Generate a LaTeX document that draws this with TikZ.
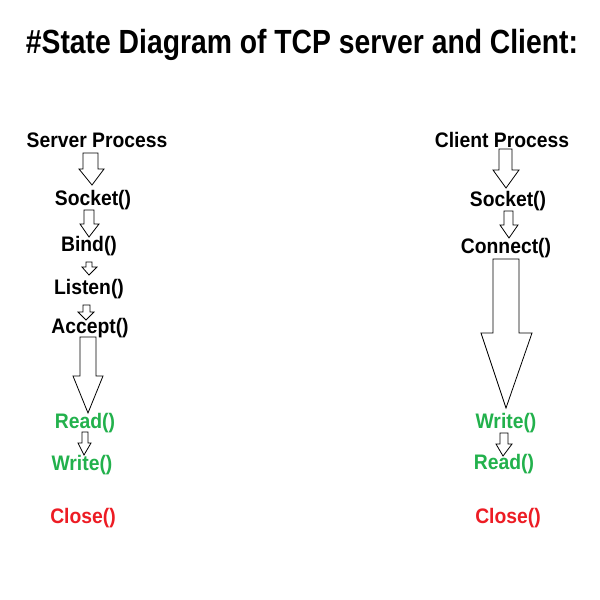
\documentclass[tikz,border=0pt]{standalone}
\usepackage{fontspec}
\newfontfamily\titlefont[FakeStretch=0.845]{Liberation Sans}
\newfontfamily\labelfont[FakeStretch=0.92]{Liberation Sans}
\definecolor{pgreen}{RGB}{34,177,76}
\definecolor{pred}{RGB}{237,28,36}
\tikzset{
  lbl/.style={anchor=base, inner sep=0pt, font=\labelfont\bfseries\fontsize{21}{21}\selectfont},
  ttl/.style={anchor=base, inner sep=0pt, font=\titlefont\bfseries\fontsize{33.5}{34}\selectfont},
  blk/.style={draw=black, fill=white, line width=0.8pt, line join=miter}
}
% block arrow: shaft left, shaft right, top y, wing left, wing right, wing y, tip x, tip y
\newcommand\bkarrow[8]{%
  \draw[blk] (#1,#3) -- (#2,#3) -- (#2,#6) -- (#5,#6) -- (#7,#8) -- (#4,#6) -- (#1,#6) -- cycle;}
\begin{document}
\begin{tikzpicture}[x=1pt,y=-1pt]
\useasboundingbox (0,0) rectangle (600,600);
\fill[white] (0,0) rectangle (600,600);
\node[ttl] (title) at (302,53) {\#State Diagram of TCP server and Client:};
% server
\node[lbl] (sp) at (97,147) {Server Process};
\node[lbl] (ssock) at (93,205) {Socket()};
\node[lbl] (sbind) at (89,251) {Bind()};
\node[lbl] (slist) at (89,294) {Listen()};
\node[lbl] (sacc) at (90,333) {Accept()};
\node[lbl, text=pgreen] (sread) at (85,428) {Read()};
\node[lbl, text=pgreen] (swrite) at (82,470) {Write()};
\node[lbl, text=pred] (sclose) at (83,523) {Close()};
\bkarrow{83}{98}{153}{79}{104}{169}{92}{185}
\bkarrow{84}{94}{210}{80}{99}{224}{89}{237}
\bkarrow{86}{92}{262}{82}{97}{267}{89}{275}
\bkarrow{83}{90}{305}{78}{94}{312}{86}{320}
\bkarrow{80}{96}{337}{73}{103}{376}{88}{413}
\bkarrow{82}{88}{432}{78}{91}{443}{84}{455}
% client
\node[lbl] (cp) at (502,147) {Client Process};
\node[lbl] (csock) at (508,206) {Socket()};
\node[lbl] (cconn) at (506,253) {Connect()};
\node[lbl, text=pgreen] (cwrite) at (506,428) {Write()};
\node[lbl, text=pgreen] (cread) at (504,469) {Read()};
\node[lbl, text=pred] (cclose) at (508,523) {Close()};
\bkarrow{499}{512}{149}{493}{519}{170}{506}{188}
\bkarrow{504}{513}{211}{500}{518}{225}{509}{238}
\bkarrow{493}{519}{259}{481}{532}{333}{506}{408}
\bkarrow{500}{508}{433}{496}{512}{444}{503}{456}
\end{tikzpicture}
\end{document}
